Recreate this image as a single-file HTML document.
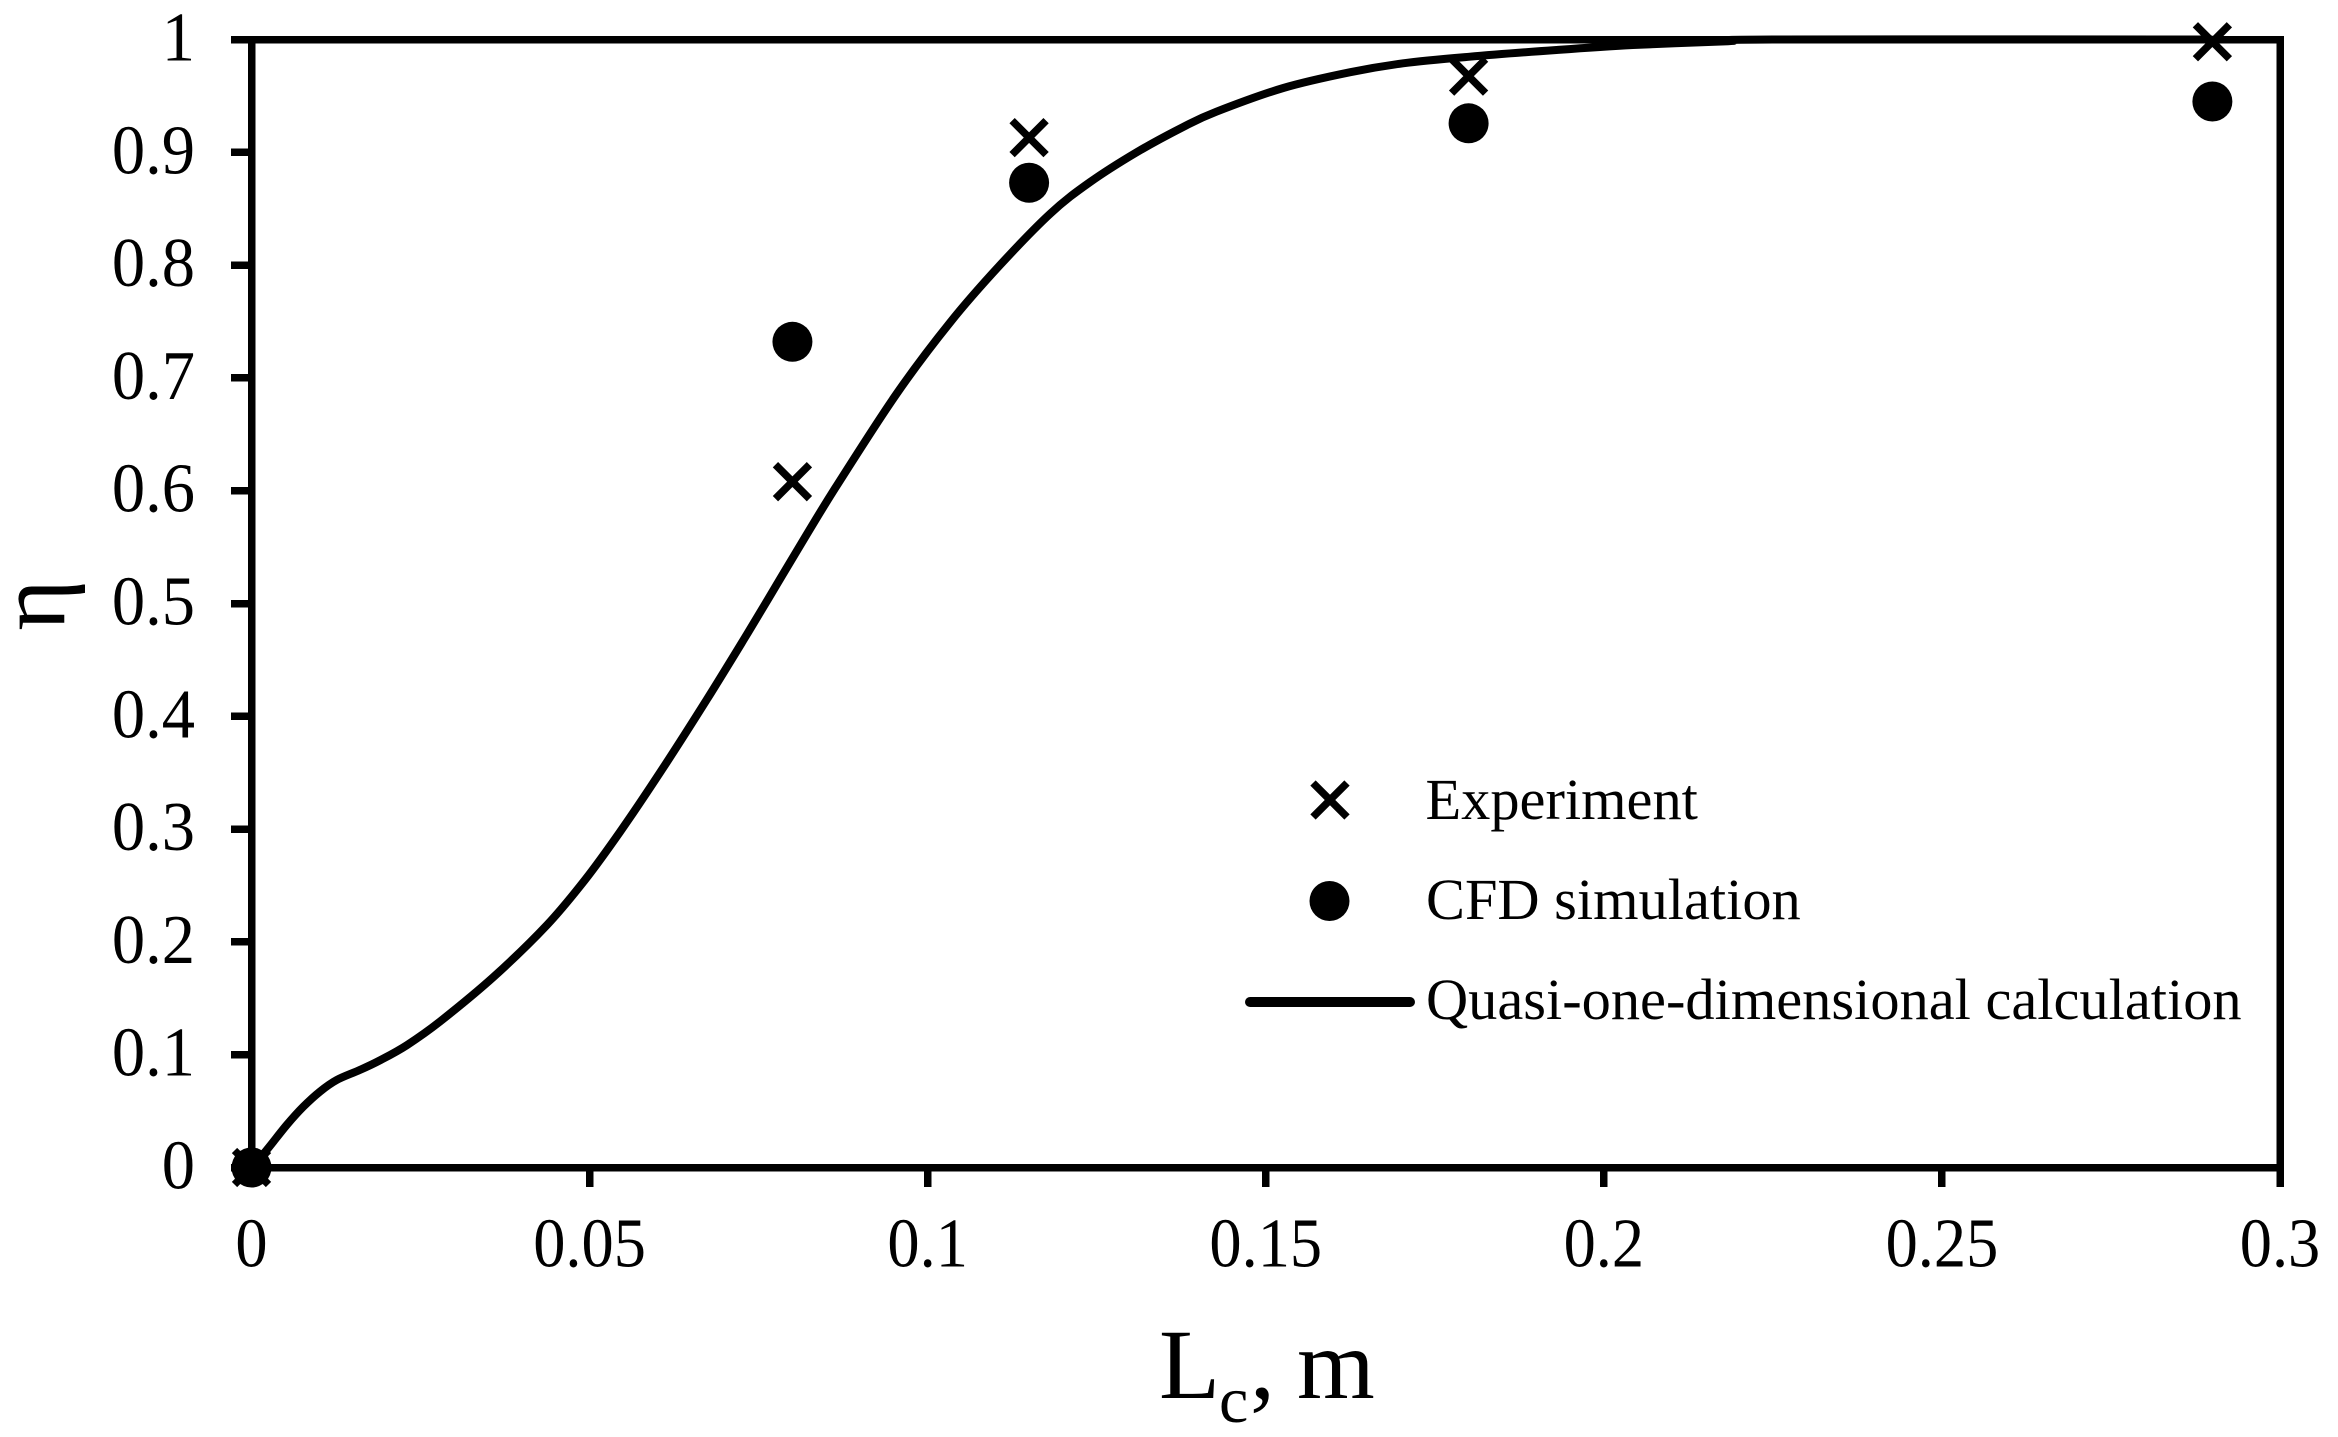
<!DOCTYPE html>
<html lang="en">
<head>
<meta charset="utf-8">
<title>Efficiency versus length chart</title>
<style>
  html, body { margin: 0; padding: 0; background: #fff; }
  svg { display: block; }
  text { font-family: "Liberation Serif", "DejaVu Serif", serif; fill: #000; }
</style>
</head>
<body>
<svg id="chart" xmlns="http://www.w3.org/2000/svg" width="2338" height="1437" viewBox="0 0 2338 1437">
  <rect x="0" y="0" width="2338" height="1437" fill="#fff"/>
  <g id="axes"></g>
  <g id="series"></g>
  <text transform="translate(64 605) rotate(-90)" text-anchor="middle" font-size="98">η</text>
  <text y="1398" font-size="100"><tspan x="1159">L</tspan><tspan x="1219" y="1422" font-size="66">c</tspan><tspan x="1250" y="1398">,</tspan><tspan x="1297">m</tspan></text>
  <g>
    <g>
      <path d="M1313 783L1347 817M1313 817L1347 783" stroke="#000" stroke-width="7.5" fill="none"/>
      <text x="1425.5" y="819" font-size="58.4">Experiment</text>
    </g>
    <g>
      <circle cx="1329.5" cy="901" r="20" fill="#000"/>
      <text x="1426" y="919" font-size="58.4">CFD simulation</text>
    </g>
    <g>
      <line x1="1250" y1="1002" x2="1410" y2="1002" stroke="#000" stroke-width="10" stroke-linecap="round"/>
      <text x="1426" y="1019" font-size="58.4">Quasi-one-dimensional calculation</text>
    </g>
  </g>
</svg>
<script>
const xTicks = [0, 0.05, 0.1, 0.15, 0.2, 0.25, 0.3];
const xTickLabels = ['0', '0.05', '0.1', '0.15', '0.2', '0.25', '0.3'];
const yTicks = [0, 0.1, 0.2, 0.3, 0.4, 0.5, 0.6, 0.7, 0.8, 0.9, 1];
const yTickLabels = ['0', '0.1', '0.2', '0.3', '0.4', '0.5', '0.6', '0.7', '0.8', '0.9', '1'];

const experimentX = [0, 0.08, 0.115, 0.18, 0.29];
const experimentY = [0, 0.608, 0.913, 0.9675, 0.998];
const cfdX = [0, 0.08, 0.115, 0.18, 0.29];
const cfdY = [0, 0.732, 0.873, 0.9257, 0.945];
const calcX = [0, 0.00225, 0.0052, 0.00766, 0.0101, 0.0126, 0.016, 0.019, 0.023, 0.0279, 0.0358, 0.0437, 0.0493, 0.0545, 0.0609, 0.0673, 0.0732, 0.0777, 0.0821, 0.0863, 0.0953, 0.1033, 0.1107, 0.1181, 0.124, 0.1309, 0.1378, 0.1427, 0.1526, 0.1625, 0.1703, 0.18, 0.193, 0.2043, 0.2184, 0.225, 0.29];
const calcY = [0, 0.0155, 0.0377, 0.0539, 0.0672, 0.0776, 0.0864, 0.095, 0.1085, 0.1295, 0.169, 0.215, 0.2549, 0.2975, 0.3545, 0.4145, 0.472, 0.517, 0.561, 0.602, 0.685, 0.749, 0.8, 0.8455, 0.8735, 0.9, 0.9225, 0.936, 0.957, 0.971, 0.9789, 0.9847, 0.9907, 0.9951, 0.9985, 1, 1];

const NS = 'http://www.w3.org/2000/svg';
const plotLeft = 251.5, plotRight = 2280, plotTop = 39.5, plotBottom = 1167.5;
const xMin = 0, xMax = 0.3, yMin = 0, yMax = 1;
function sx(v) { return plotLeft + (v - xMin) / (xMax - xMin) * (plotRight - plotLeft); }
function sy(v) { return plotBottom - (v - yMin) / (yMax - yMin) * (plotBottom - plotTop); }

function make(tag, attrs, parent) {
  const el = document.createElementNS(NS, tag);
  Object.keys(attrs).forEach(function (k) { el.setAttribute(k, attrs[k]); });
  parent.appendChild(el);
  return el;
}

const axes = document.getElementById('axes');
const series = document.getElementById('series');

const frame = make('path', {
  d: 'M' + plotLeft + ' ' + plotTop + 'H' + plotRight + 'V' + plotBottom + 'H' + plotLeft + 'Z',
  fill: 'none', stroke: '#000', 'stroke-width': 7.5, 'shape-rendering': 'crispEdges'
}, axes);



xTicks.forEach(function (v, i) {
  const tick = make('line', {
    x1: sx(v), x2: sx(v), y1: plotBottom, y2: 1187,
    stroke: '#000', 'stroke-width': 7.5, 'shape-rendering': 'crispEdges'
  }, axes);
  
  
  const label = make('text', { transform: 'translate(' + sx(v) + ' 1266.5) scale(0.92 1)', 'text-anchor': 'middle', 'font-size': 70 }, axes);
  
  
  label.textContent = xTickLabels[i];
});

yTicks.forEach(function (v, i) {
  const tick = make('line', {
    x1: 231, x2: plotLeft, y1: sy(v), y2: sy(v),
    stroke: '#000', 'stroke-width': 7.5, 'shape-rendering': 'crispEdges'
  }, axes);
  
  
  const label = make('text', { transform: 'translate(195 ' + (sy(v) + 21) + ') scale(0.95 1)', 'text-anchor': 'end', 'font-size': 70 }, axes);
  
  
  label.textContent = yTickLabels[i];
});

function smoothPath(xs, ys) {
  const p = xs.map(function (x, i) { return [sx(x), sy(ys[i])]; });
  let d = 'M' + p[0][0].toFixed(1) + ' ' + p[0][1].toFixed(1);
  for (let i = 0; i < p.length - 1; i++) {
    const a = p[Math.max(i - 1, 0)], b = p[i], c = p[i + 1], e = p[Math.min(i + 2, p.length - 1)];
    const c1x = b[0] + (c[0] - a[0]) / 6, c1y = b[1] + (c[1] - a[1]) / 6;
    const c2x = c[0] - (e[0] - b[0]) / 6, c2y = c[1] - (e[1] - b[1]) / 6;
    d += 'C' + c1x.toFixed(1) + ' ' + c1y.toFixed(1) + ' ' + c2x.toFixed(1) + ' ' + c2y.toFixed(1) + ' ' + c[0].toFixed(1) + ' ' + c[1].toFixed(1);
  }
  return d;
}

const curve = make('path', {
  d: smoothPath(calcX, calcY), fill: 'none', stroke: '#000', 'stroke-width': 8, 'stroke-linejoin': 'round'
}, series);



experimentX.forEach(function (x, i) {
  const cx = sx(x), cy = sy(experimentY[i]), a = 17;
  const mark = make('path', {
    d: 'M' + (cx - a) + ' ' + (cy - a) + 'L' + (cx + a) + ' ' + (cy + a) + 'M' + (cx - a) + ' ' + (cy + a) + 'L' + (cx + a) + ' ' + (cy - a),
    fill: 'none', stroke: '#000', 'stroke-width': 7.5
  }, series);
  
  
});

cfdX.forEach(function (x, i) {
  const mark = make('circle', { cx: sx(x), cy: sy(cfdY[i]), r: 20, fill: '#000' }, series);
  
  
});
</script>
</body>
</html>
